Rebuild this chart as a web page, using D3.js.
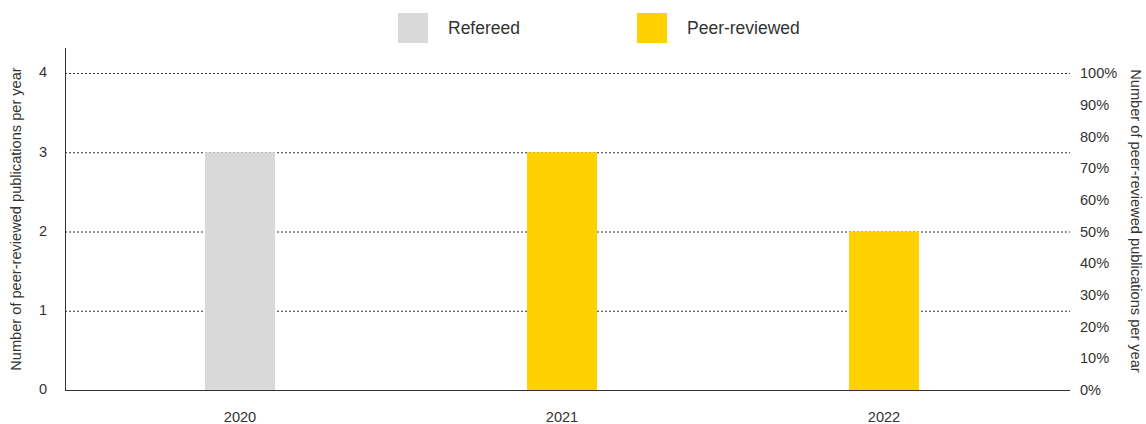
<!DOCTYPE html>
<html><head><meta charset="utf-8">
<script src="https://cdn.jsdelivr.net/npm/d3@7"></script>
<style>body{margin:0;background:#fff}text{font-family:"Liberation Sans",Arial,sans-serif;fill:#333}</style>
</head><body><svg id="c" width="1146" height="424"></svg>
<script>
const years = ["2020","2021","2022"];
const types = ["Refereed","Peer-reviewed","Peer-reviewed"];
const counts = [3,3,2];
const leftTicks = [0,1,2,3,4];
const rightTicks = [0,0.1,0.2,0.3,0.4,0.5,0.6,0.7,0.8,0.9,1];
const legendItems = ["Refereed","Peer-reviewed"];
const colors = {"Refereed":"#d9d9d9","Peer-reviewed":"#ffd100"};

const svg = d3.select("#c");
const x0 = 65, x1 = 1070, yTop = 73, yBot = 390;
const x = d3.scaleBand().domain(years).range([79,1045]).padding(0);
const y = d3.scaleLinear().domain([0,4]).range([yBot,yTop]);
const yp = d3.scaleLinear().domain([0,1]).range([yBot,yTop]);
const fs = 14.6;

// grid
svg.append("g").selectAll("line").data(leftTicks.filter(d=>d>0)).join("line")
  .attr("x1",x0).attr("x2",x1).attr("y1",d=>y(d)+0.5).attr("y2",d=>y(d)+0.5)
  .attr("stroke","#333").attr("stroke-width",1).attr("stroke-dasharray","2,2");

// bars
const bw = 70;
svg.append("g").selectAll("rect").data(years).join("rect")
  .attr("x",(d)=>x(d)+x.bandwidth()/2-bw/2)
  .attr("width",bw)
  .attr("y",(d,i)=>y(counts[i]))
  .attr("height",(d,i)=>yBot-y(counts[i]))
  .attr("fill",(d,i)=>colors[types[i]]);

// axes lines
svg.append("line").attr("x1",x0+0.5).attr("x2",x0+0.5).attr("y1",48).attr("y2",yBot).attr("stroke","#333");
svg.append("line").attr("x1",x0).attr("x2",x1).attr("y1",yBot+0.5).attr("y2",yBot+0.5).attr("stroke","#333");

// left ticks
svg.append("g").selectAll("text").data(leftTicks).join("text")
  .attr("x",43).attr("y",d=>y(d)).attr("dy","0.3em").attr("text-anchor","middle")
  .attr("font-size",fs).text(d=>d);
// right ticks
svg.append("g").selectAll("text").data(rightTicks).join("text")
  .attr("x",1080).attr("y",d=>yp(d)).attr("dy","0.35em").attr("text-anchor","start")
  .attr("font-size",fs).text(d=>d3.format(".0%")(d));
// x labels
svg.append("g").selectAll("text").data(years).join("text")
  .attr("x",d=>x(d)+x.bandwidth()/2).attr("y",422).attr("text-anchor","middle")
  .attr("font-size",fs).text(d=>d);

// axis titles
svg.append("text").attr("transform","translate(21,219) rotate(-90)").attr("text-anchor","middle")
  .attr("font-size",fs).text("Number of peer-reviewed publications per year");
svg.append("text").attr("transform","translate(1131,221) rotate(90)").attr("text-anchor","middle")
  .attr("font-size",fs).text("Number of peer-reviewed publications per year");

// legend
const lg = svg.append("g").selectAll("g").data(legendItems).join("g")
  .attr("transform",(d,i)=>`translate(${398+i*239},13)`);
lg.append("rect").attr("width",30).attr("height",30).attr("fill",d=>colors[d]);
lg.append("text").attr("x",50).attr("y",15).attr("dy","0.35em").attr("font-size",17.5).text(d=>d);
</script></body></html>
